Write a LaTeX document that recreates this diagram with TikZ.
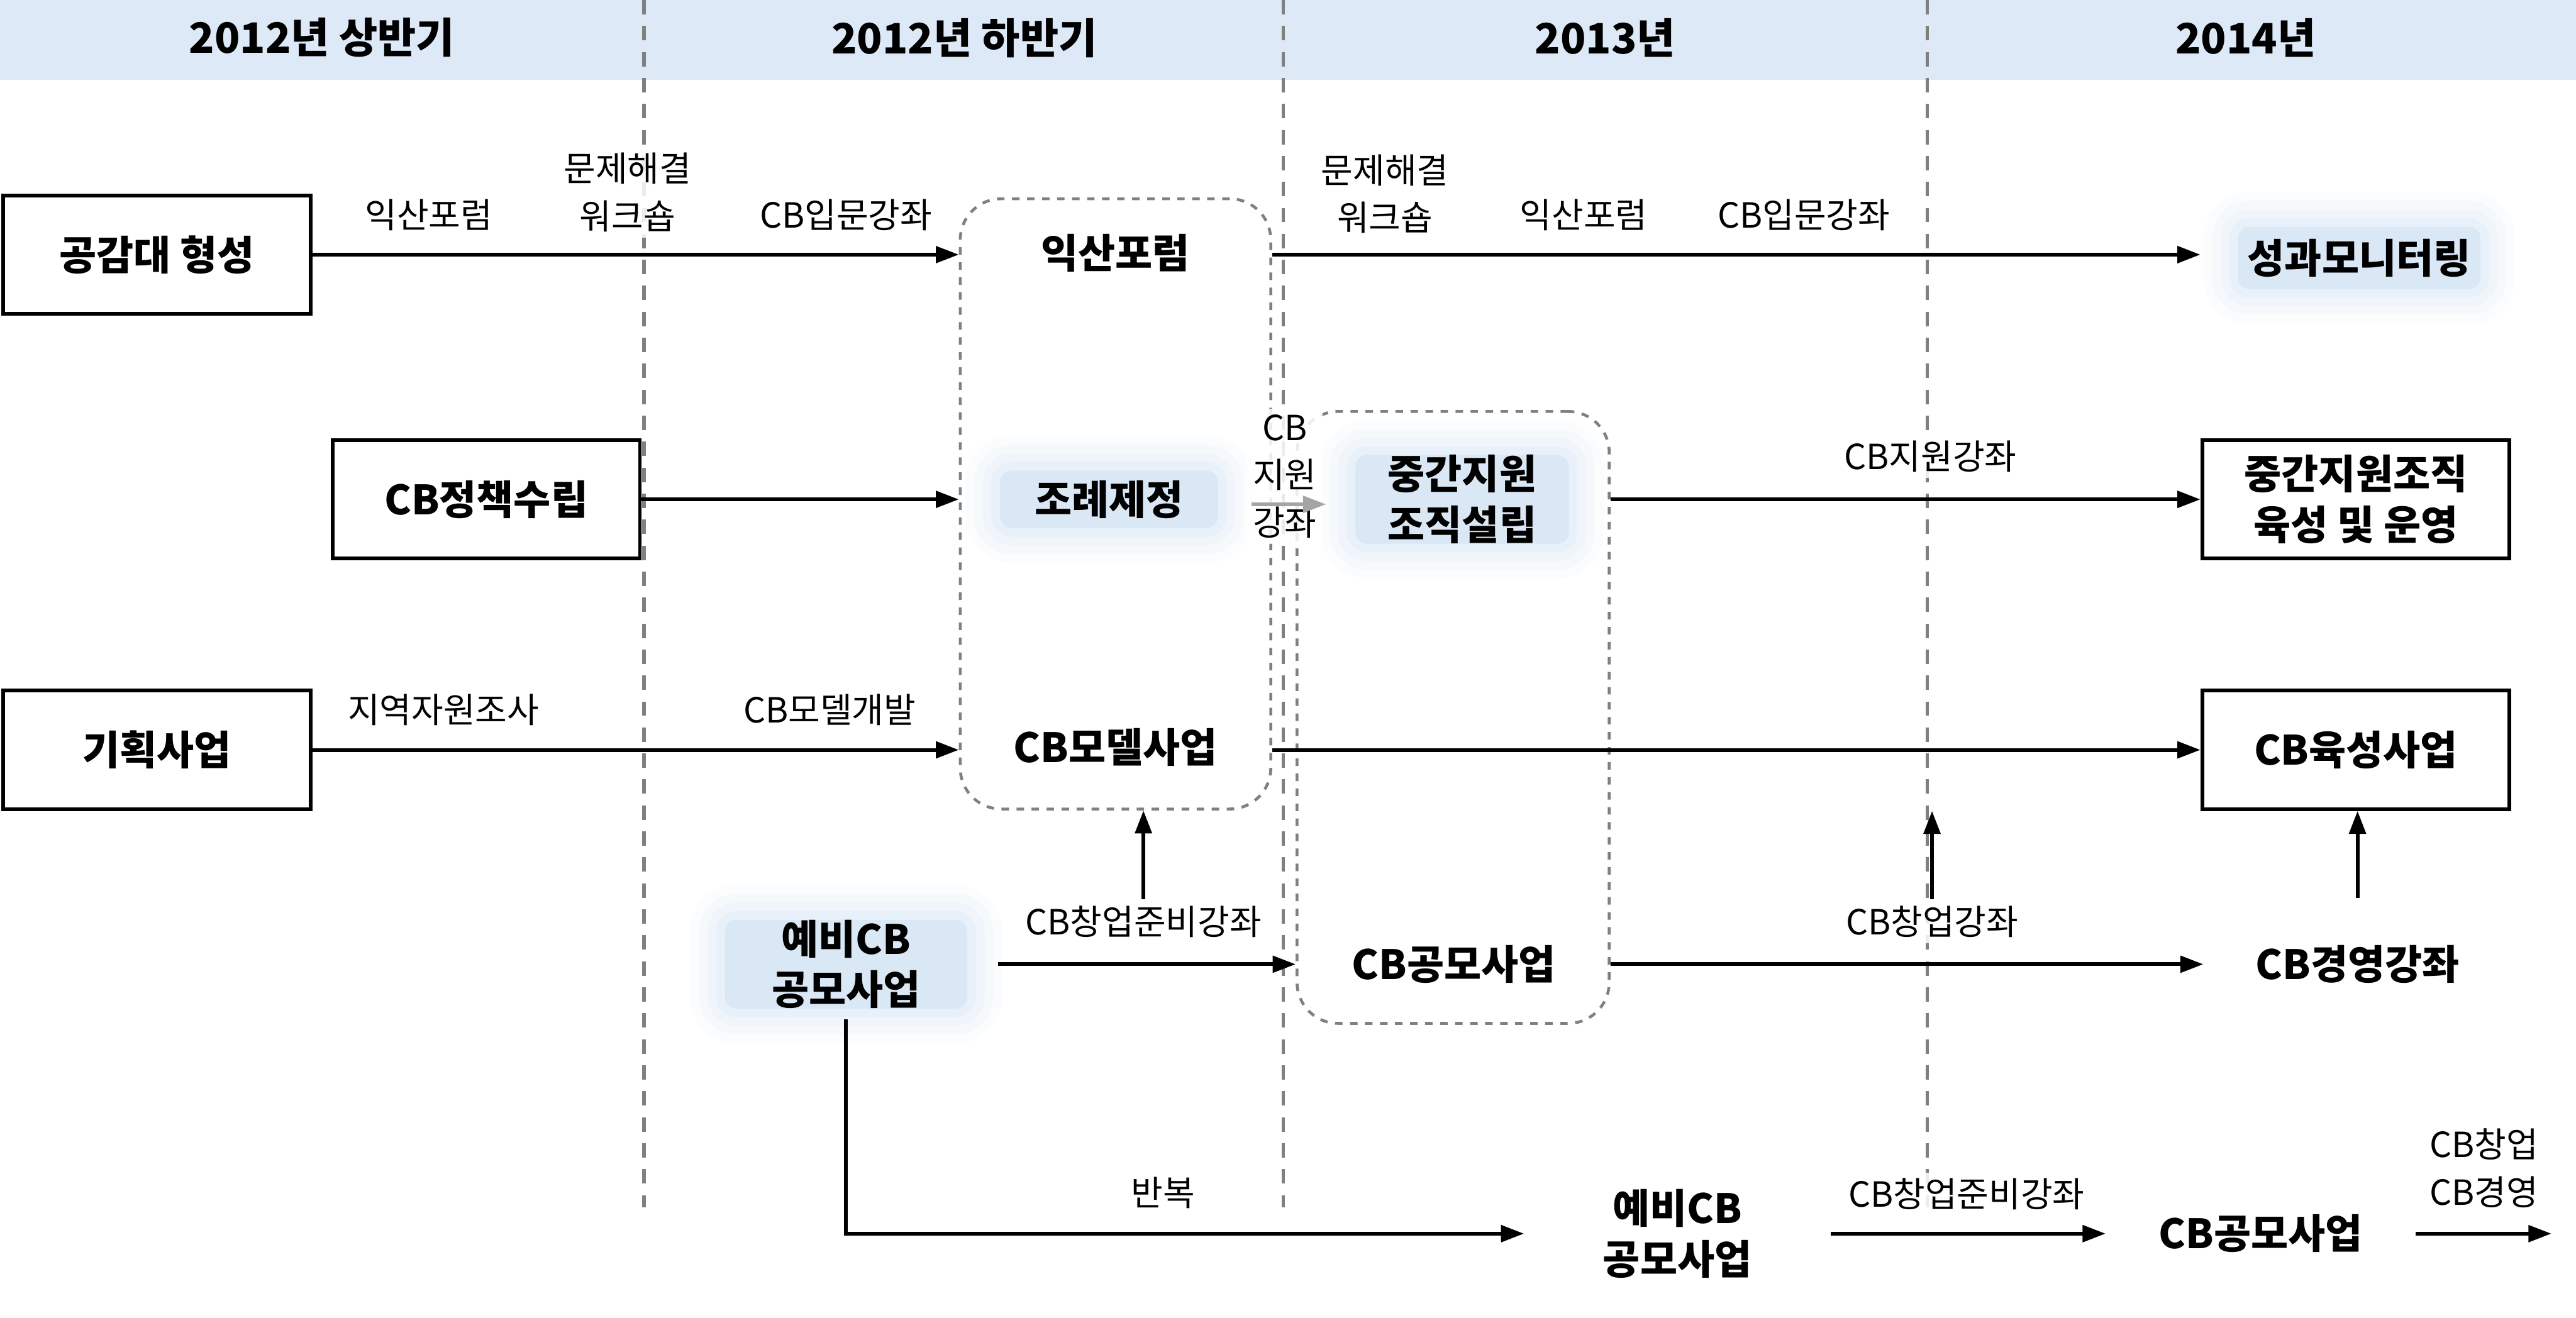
\documentclass[tikz,border=0pt]{standalone}
\usepackage{fontspec}
\setmainfont{Noto Sans CJK KR}
\usepackage{tikz}
\usetikzlibrary{arrows.meta, positioning, calc}
\definecolor{bandblue}{RGB}{221,233,246}
\definecolor{glowblue}{RGB}{218,231,245}
\definecolor{sepgray}{RGB}{128,128,128}
\definecolor{arrgray}{RGB}{165,165,165}

\begin{document}
\begin{tikzpicture}[
    period/.style={font=\fontsize{14.5}{17}\selectfont\bfseries},
    sepline/.style={sepgray, line width=1.1pt, dash pattern=on 5pt off 4pt},
    stagebox/.style={rectangle, draw=black, line width=1.3pt, minimum width=3.74cm, minimum height=1.44cm, align=center, font=\fontsize{14}{17.6}\selectfont\bfseries},
    task/.style={align=center, font=\fontsize{14}{17.6}\selectfont\bfseries},
    glow/.style={task, fill=glowblue, rounded corners=4pt, inner ysep=0pt,
        preaction={draw=glowblue, line width=24pt, draw opacity=0.12},
        preaction={draw=glowblue, line width=18pt, draw opacity=0.16},
        preaction={draw=glowblue, line width=12pt, draw opacity=0.22},
        preaction={draw=glowblue, line width=6pt, draw opacity=0.35}},
    group/.style={rectangle, draw=sepgray, line width=1pt, dash pattern=on 2.6pt off 2.6pt, rounded corners=0.5cm},
    lbl/.style={align=center, fill=white, fill opacity=0.85, text opacity=1, inner sep=2pt, font=\fontsize{12}{16.5}\selectfont},
    arr/.style={-{Triangle[length=0.28cm, width=0.2cm]}, line width=1.3pt},
    grayarr/.style={arr, arrgray}
]
\useasboundingbox (0,0) rectangle (31.36,-16.04);
\fill[bandblue] (0,0) rectangle (31.36,-0.975);
\node[period] (y1) at (3.92,-0.46) {2012년 상반기};
\node[period] (y2) at (11.74,-0.46) {2012년 하반기};
\node[period] (y3) at (19.54,-0.46) {2013년};
\node[period] (y4) at (27.34,-0.46) {2014년};
\foreach \x in {7.84, 15.62, 23.46}
    \draw[sepline] (\x,0) -- (\x,-14.7);

\node[group, minimum width=3.78cm, minimum height=7.43cm] (grpA) at (13.58,-6.135) {};
\node[group, minimum width=3.8cm, minimum height=7.45cm] (grpB) at (17.69,-8.735) {};

\node[stagebox] (consensus) at (1.91,-3.1) {공감대 형성};
\node[stagebox] (policy) at (5.92,-6.08) {CB정책수립};
\node[stagebox] (planning) at (1.91,-9.13) {기획사업};
\node[stagebox] (midorg) at (28.68,-6.08) {중간지원조직\\육성 및 운영};
\node[stagebox] (foster) at (28.68,-9.13) {CB육성사업};

\node[task] (forum) at (13.58,-3.08) {익산포럼};
\node[glow, minimum width=2.65cm, minimum height=0.7cm] (ordinance) at (13.5,-6.08) {조례제정};
\node[glow, minimum width=2.6cm] (midsetup) at (17.8,-6.08) {중간지원\\조직설립};
\node[task] (model) at (13.58,-9.1) {CB모델사업};
\node[task] (contestB) at (17.7,-11.74) {CB공모사업};
\node[glow, minimum width=2.95cm] (precb) at (10.3,-11.74) {예비CB\\공모사업};
\node[glow, minimum width=2.95cm, minimum height=0.76cm] (monitor) at (28.72,-3.14) {성과모니터링};
\node[task, minimum width=3.74cm] (mgmt) at (28.7,-11.74) {CB경영강좌};
\node[task, minimum width=3.72cm] (precb2) at (20.42,-15.02) {예비CB\\공모사업};
\node[task, minimum width=3.76cm] (contest2) at (27.52,-15.02) {CB공모사업};
\coordinate (tail) at (31.06,-15.02);

\node[lbl] (fl1) at (5.22,-2.62) {익산포럼};
\node[lbl] (fl2) at (7.64,-2.34) {문제해결\\워크숍};
\node[lbl] (fl3) at (10.3,-2.62) {CB입문강좌};
\node[lbl] (fl4) at (16.86,-2.36) {문제해결\\워크숍};
\node[lbl] (fl5) at (19.28,-2.62) {익산포럼};
\node[lbl] (fl6) at (21.96,-2.62) {CB입문강좌};
\node[lbl] (sl1) at (15.64,-5.8) {CB\\지원\\강좌};
\node[lbl] (sl2) at (23.5,-5.56) {CB지원강좌};
\node[lbl] (pl1) at (5.4,-8.64) {지역자원조사};
\node[lbl] (pl2) at (10.1,-8.64) {CB모델개발};
\node[lbl] (prepL) at (13.92,-11.22) {CB창업준비강좌};
\node[lbl] (startL) at (23.52,-11.22) {CB창업강좌};
\node[lbl] (repeatL) at (14.16,-14.52) {반복};
\node[lbl] (prep2L) at (23.94,-14.54) {CB창업준비강좌};
\node[lbl] (bizL) at (30.24,-14.22) {CB창업\\CB경영};

\draw[arr] (consensus) -- (consensus -| grpA.west);
\draw[arr] (consensus -| grpA.east) -- (consensus -| foster.west);
\draw[arr] (policy) -- (policy -| grpA.west);
\draw[arr] (policy -| grpB.east) -- (midorg);
\draw[grayarr, shorten <=0.4cm, shorten >=0.35cm] ([yshift=-0.06cm]ordinance.east) -- ([yshift=-0.06cm]midsetup.west);
\draw[arr] (planning) -- (planning -| grpA.west);
\draw[arr] (planning -| grpA.east) -- (foster);
\draw[arr, shorten <=0.37cm] (precb) -- (precb -| grpB.west);
\draw[arr] (contestB -| grpB.east) -- (mgmt);
\draw[arr] (prepL.north) -- (prepL.north |- grpA.south);
\draw[arr] (startL.north) -- (startL.north |- foster.south);
\draw[arr, shorten <=0.45cm] (mgmt.north) -- (mgmt.north |- foster.south);
\draw[arr, shorten <=0.12cm] (precb.south) |- (precb2);
\draw[arr] (precb2) -- (contest2);
\draw[arr] (contest2) -- (tail);
\end{tikzpicture}
\end{document}
